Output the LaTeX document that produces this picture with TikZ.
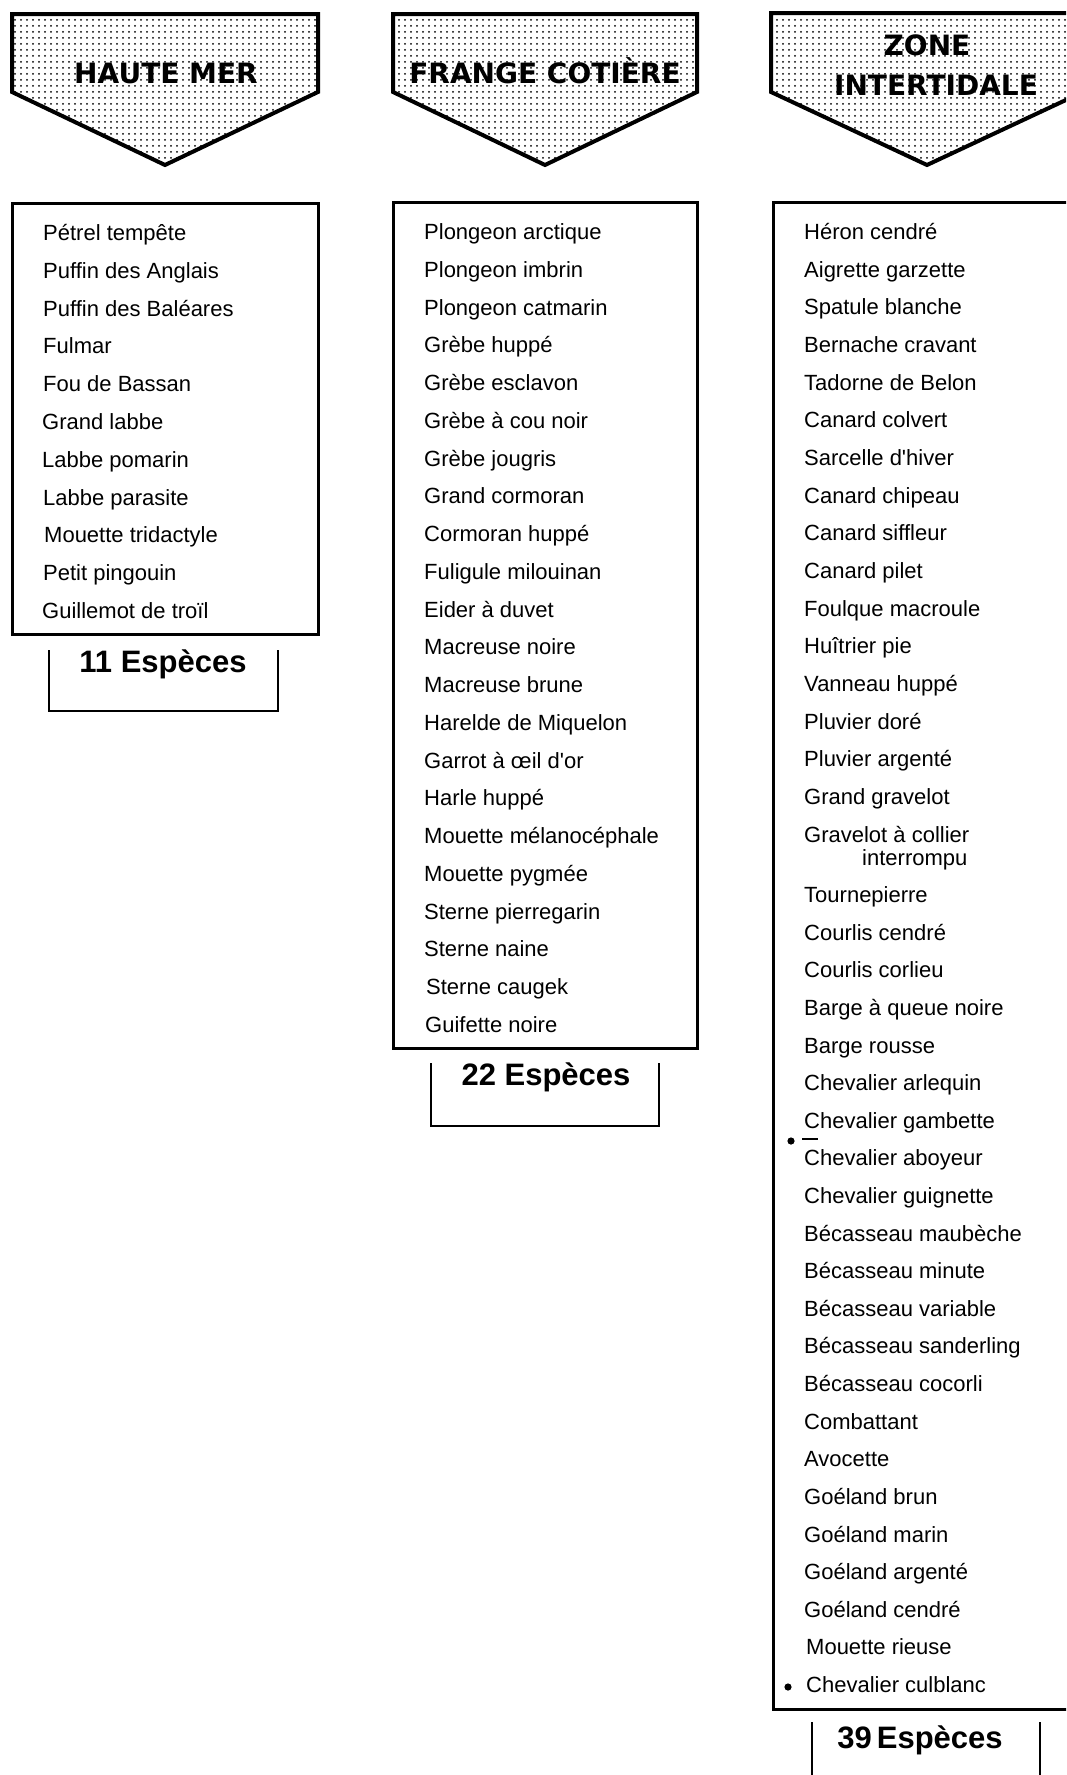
\documentclass[tikz,border=0pt]{standalone}
\usepackage{fontspec}
\setmainfont{Liberation Sans}
\newfontfamily\headfont{DejaVu Sans}
\usetikzlibrary{patterns}

\pgfdeclarepatternformonly{stipple}{\pgfqpoint{2pt}{2pt}}{\pgfqpoint{4pt}{4pt}}{\pgfqpoint{6pt}{6pt}}{%
  \pgfpathcircle{\pgfqpoint{3pt}{3pt}}{1pt}\pgfusepath{fill}}

\tikzset{
  espece/.style={anchor=west, inner sep=0pt, text height=16pt, text depth=5pt, font=\fontsize{22}{26}\selectfont},
  entete/.style={anchor=base, inner sep=0pt, font=\headfont\bfseries\fontsize{28}{32}\selectfont},
  nombre/.style={anchor=base, inner sep=0pt, font=\bfseries\fontsize{31}{36}\selectfont},
  fleche/.style={line width=4pt, pattern=stipple},
  liste/.style={line width=3pt},
  total/.style={line width=2.2pt},
}

\begin{document}
\begin{tikzpicture}[x=1pt,y=-1pt]
	\useasboundingbox (0,0) rectangle (1066,1775);
	\clip (0,0) rectangle (1066,1775);
	\fill[white] (0,0) rectangle (1066,1775);
	
	\draw[fleche](12,14)--(318,14)--(318,92)--(165,165)--(12,92)--cycle;
	\draw[fleche](393,14)--(697,14)--(697,92)--(545,165)--(393,92)--cycle;
	\draw[fleche](771,13)--(1083,13)--(1083,92)--(927,165)--(771,92)--cycle;
	\node[entete] (hmtitre) at (166,83) {HAUTE MER};
	\node[entete] (fctitre) at (545,83) {FRANGE COTIÈRE};
	\node[entete] (zititre) at (927,55) {ZONE};
	\node[entete] (zititreb) at (936,95) {INTERTIDALE};
	
	\draw[liste](12,203)--(318,203)--(318,634)--(12,634)--cycle;
	\draw[liste](393,202)--(697,202)--(697,1048)--(393,1048)--cycle;
	\draw[liste](773,202)--(1079,202)--(1079,1709)--(773,1709)--cycle;
	
	\node[espece] (hm1) at (43,235.0) {Pétrel tempête};
	\node[espece] (hm2) at (43,272.8) {Puffin des Anglais};
	\node[espece] (hm3) at (43,310.6) {Puffin des Baléares};
	\node[espece] (hm4) at (43,348.4) {Fulmar};
	\node[espece] (hm5) at (43,386.2) {Fou de Bassan};
	\node[espece] (hm6) at (42,424.0) {Grand labbe};
	\node[espece] (hm7) at (42,461.8) {Labbe pomarin};
	\node[espece] (hm8) at (43,499.6) {Labbe parasite};
	\node[espece] (hm9) at (44,537.4) {Mouette tridactyle};
	\node[espece] (hm10) at (43,575.2) {Petit pingouin};
	\node[espece] (hm11) at (42,613.0) {Guillemot de troïl};
	
	\node[espece] (fc1) at (424,234.0) {Plongeon arctique};
	\node[espece] (fc2) at (424,271.8) {Plongeon imbrin};
	\node[espece] (fc3) at (424,309.5) {Plongeon catmarin};
	\node[espece] (fc4) at (424,347.3) {Grèbe huppé};
	\node[espece] (fc5) at (424,385.0) {Grèbe esclavon};
	\node[espece] (fc6) at (424,422.8) {Grèbe à cou noir};
	\node[espece] (fc7) at (424,460.6) {Grèbe jougris};
	\node[espece] (fc8) at (424,498.3) {Grand cormoran};
	\node[espece] (fc9) at (424,536.1) {Cormoran huppé};
	\node[espece] (fc10) at (424,573.8) {Fuligule milouinan};
	\node[espece] (fc11) at (424,611.6) {Eider à duvet};
	\node[espece] (fc12) at (424,649.4) {Macreuse noire};
	\node[espece] (fc13) at (424,687.1) {Macreuse brune};
	\node[espece] (fc14) at (424,724.9) {Harelde de Miquelon};
	\node[espece] (fc15) at (424,762.6) {Garrot à œil d\textquotesingle or};
	\node[espece] (fc16) at (424,800.4) {Harle huppé};
	\node[espece] (fc17) at (424,838.2) {Mouette mélanocéphale};
	\node[espece] (fc18) at (424,875.9) {Mouette pygmée};
	\node[espece] (fc19) at (424,913.7) {Sterne pierregarin};
	\node[espece] (fc20) at (424,951.4) {Sterne naine};
	\node[espece] (fc21) at (426,989.2) {Sterne caugek};
	\node[espece] (fc22) at (425,1027.0) {Guifette noire};
	
	\node[espece] (zi1) at (804,234.0) {Héron cendré};
	\node[espece] (zi2) at (804,271.7) {Aigrette garzette};
	\node[espece] (zi3) at (804,309.3) {Spatule blanche};
	\node[espece] (zi4) at (804,347.0) {Bernache cravant};
	\node[espece] (zi5) at (804,384.7) {Tadorne de Belon};
	\node[espece] (zi6) at (804,422.4) {Canard colvert};
	\node[espece] (zi7) at (804,460.0) {Sarcelle d\textquotesingle hiver};
	\node[espece] (zi8) at (804,497.7) {Canard chipeau};
	\node[espece] (zi9) at (804,535.4) {Canard siffleur};
	\node[espece] (zi10) at (804,573.0) {Canard pilet};
	\node[espece] (zi11) at (804,610.7) {Foulque macroule};
	\node[espece] (zi12) at (804,648.4) {Huîtrier pie};
	\node[espece] (zi13) at (804,686.0) {Vanneau huppé};
	\node[espece] (zi14) at (804,723.7) {Pluvier doré};
	\node[espece] (zi15) at (804,761.4) {Pluvier argenté};
	\node[espece] (zi16) at (804,799.0) {Grand gravelot};
	\node[espece] (zi17) at (804,837.0) {Gravelot à collier};
	\node[espece] (zi17b) at (862,860.0) {interrompu};
	\node[espece] (zi18) at (804,897.0) {Tournepierre};
	\node[espece] (zi19) at (804,934.6) {Courlis cendré};
	\node[espece] (zi20) at (804,972.2) {Courlis corlieu};
	\node[espece] (zi21) at (804,1009.9) {Barge à queue noire};
	\node[espece] (zi22) at (804,1047.5) {Barge rousse};
	\node[espece] (zi23) at (804,1085.1) {Chevalier arlequin};
	\node[espece] (zi24) at (804,1122.7) {Chevalier gambette};
	\node[espece] (zi25) at (804,1160.3) {Chevalier aboyeur};
	\node[espece] (zi26) at (804,1197.9) {Chevalier guignette};
	\node[espece] (zi27) at (804,1235.6) {Bécasseau maubèche};
	\node[espece] (zi28) at (804,1273.2) {Bécasseau minute};
	\node[espece] (zi29) at (804,1310.8) {Bécasseau variable};
	\node[espece] (zi30) at (804,1348.4) {Bécasseau sanderling};
	\node[espece] (zi31) at (804,1386.0) {Bécasseau cocorli};
	\node[espece] (zi32) at (804,1423.7) {Combattant};
	\node[espece] (zi33) at (804,1461.3) {Avocette};
	\node[espece] (zi34) at (804,1498.9) {Goéland brun};
	\node[espece] (zi35) at (804,1536.5) {Goéland marin};
	\node[espece] (zi36) at (804,1574.1) {Goéland argenté};
	\node[espece] (zi37) at (804,1611.8) {Goéland cendré};
	\node[espece] (zi38) at (806,1649.4) {Mouette rieuse};
	\node[espece] (zi39) at (806,1687.0) {Chevalier culblanc};
	
	\fill(791,1141) circle [radius=3.6pt];
	\draw[line width=1.8pt](802,1139)--(818,1139);
	\fill(788,1687) circle [radius=3.6pt];
	
	\draw[total](49,650)--(49,711)--(278,711)--(278,650);
	\draw[total](431,1063)--(431,1126)--(659,1126)--(659,1063);
	\draw[total](812,1722)--(812,1790)--(1040,1790)--(1040,1722);
	\node[nombre] (hmtotal) at (163,672) {11 Espèces};
	\node[nombre] (fctotal) at (546,1085) {22 Espèces};
	\node[nombre] (zitotal) at (920,1748) {39\,Espèces};
	
\end{tikzpicture}
\end{document}
